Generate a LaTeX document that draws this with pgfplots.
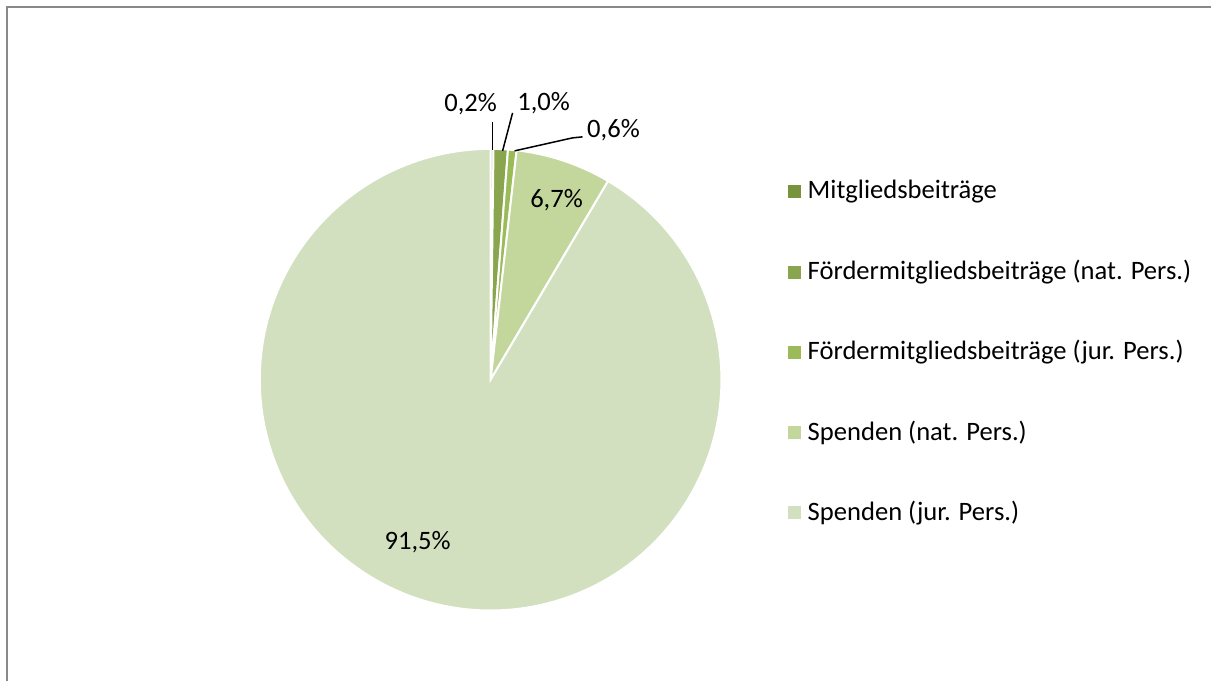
\documentclass[border=0pt]{standalone}
\usepackage{pgfplots}
\pgfplotsset{compat=1.18}
\usepackage{pgfplotstable}
\usepackage{fontspec}
\setmainfont{Carlito}
\definecolor{cA}{HTML}{77933C}
\definecolor{cB}{HTML}{89A54E}
\definecolor{cC}{HTML}{9BBB59}
\definecolor{cD}{HTML}{C3D69B}
\definecolor{cE}{HTML}{D3E0C0}
\definecolor{frame}{HTML}{898989}
\pgfplotstableread{
value color name
0.2 cA {Mitgliedsbeiträge}
1.0 cB {Fördermitgliedsbeiträge (nat. Pers.)}
0.6 cC {Fördermitgliedsbeiträge (jur. Pers.)}
6.7 cD {Spenden (nat. Pers.)}
91.5 cE {Spenden (jur. Pers.)}
}\piedata
\begin{document}
\begin{tikzpicture}
\begin{axis}[hide axis, scale only axis, width=606pt, height=341pt,
  xmin=0, xmax=1212, ymin=0, ymax=682, clip=false,
  font=\fontsize{13.3}{15}\selectfont]
\path (axis cs:0,0) rectangle (axis cs:1212,682);
\draw[frame, line width=1pt] (axis cs:7,0) -- (axis cs:7,675) -- (axis cs:1212,675);
\def\cum{0}
\pgfplotsforeachungrouped \i in {0,...,4}{%
  \pgfplotstablegetelem{\i}{value}\of\piedata \let\val\pgfplotsretval
  \pgfplotstablegetelem{\i}{color}\of\piedata \let\col\pgfplotsretval
  \pgfplotstablegetelem{\i}{name}\of\piedata \let\nam\pgfplotsretval
  \pgfmathsetmacro\sa{90-3.6*\cum}%
  \pgfmathsetmacro\ea{90-3.6*(\cum+\val)}%
  \pgfmathsetmacro\sx{491+231*cos(\sa)}%
  \pgfmathsetmacro\sy{302+231*sin(\sa)}%
  \pgfmathsetmacro\ly{490-80.3*\i}%
  \edef\temp{\noexpand\filldraw[fill=\col, draw=white, line width=1pt] (axis cs:491,302) -- (axis cs:\sx,\sy) arc[start angle=\sa, end angle=\ea, radius=231] -- cycle;
   \noexpand\fill[\col] (axis cs:789,\ly-6.5) rectangle (axis cs:802,\ly+6.5);
   \noexpand\node[anchor=west, inner sep=0pt] at (axis cs:808,\ly) {\nam};}%
  \temp
  \pgfmathsetmacro\cum{\cum+\val}%
}
\draw[black, line width=0.75pt] (axis cs:493,560) -- (axis cs:493,532);
\draw[black, line width=0.75pt] (axis cs:513,569) -- (axis cs:503,531);
\draw[black, line width=0.75pt] (axis cs:583,545) -- (axis cs:573,544) -- (axis cs:515,531);
\node at (axis cs:471,578) {0,2\%};
\node at (axis cs:544,579) {1,0\%};
\node at (axis cs:614,552) {0,6\%};
\node at (axis cs:557,482) {6,7\%};
\node at (axis cs:418,139) {91,5\%};
\end{axis}
\end{tikzpicture}
\end{document}
